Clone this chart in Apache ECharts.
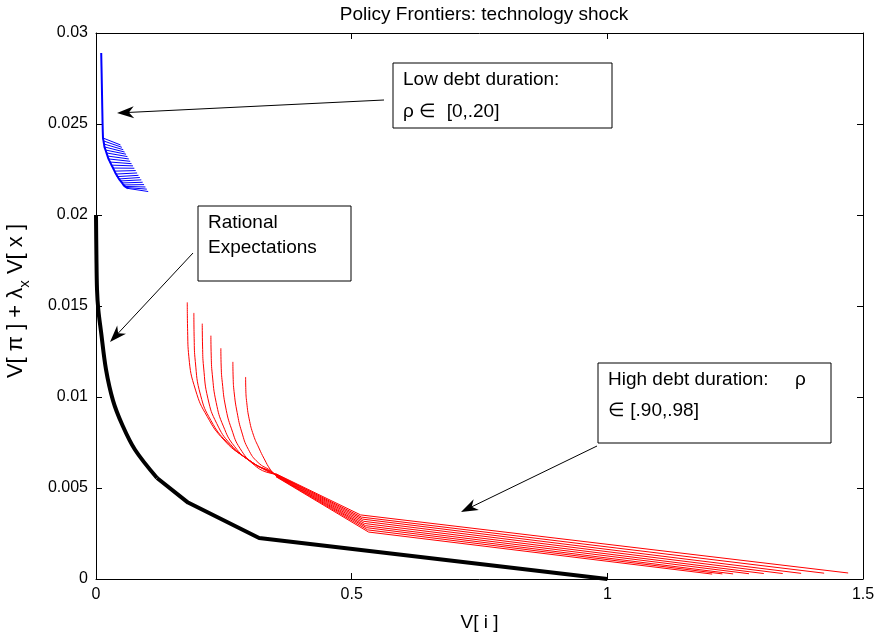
<!DOCTYPE html>
<html>
<head>
<meta charset="utf-8">
<script src="https://cdn.jsdelivr.net/npm/echarts@6/dist/echarts.min.js"></script>
<style>
  html, body { margin: 0; padding: 0; background: #fff; }
  #chart { width: 875px; height: 633px; }
</style>
</head>
<body>
<div id="chart"></div>
<script>
// 축 눈금
var xTicks = [0, 0.5, 1, 1.5];
var yTicks = [0, 0.005, 0.01, 0.015, 0.02, 0.025, 0.03];

// Rational expectations 프런티어 (검은 선) - reCurveEnd 까지는 곡선, 그 뒤는 직선
var reX = [0.000, 0.0008, 0.002, 0.0045, 0.0098, 0.0196, 0.0333, 0.0509, 0.0763, 0.1194, 0.180, 0.319, 1.000];
var reY = [0.0200, 0.0178, 0.0159, 0.0148, 0.0136, 0.0115, 0.0098, 0.0085, 0.0071, 0.00555, 0.0042, 0.00225, 0.0000];
var reCurveEnd = 9;

// High debt duration (빨간 선) - 위쪽 곡선 부분 (7개)
var redTops = [
  [[0.1785, 0.01520], [0.1792, 0.01360], [0.1816, 0.01221], [0.1947, 0.01038], [0.2176, 0.00892], [0.2501, 0.00764], [0.2892, 0.00672], [0.3415, 0.00581]],
  [[0.1914, 0.01462], [0.1920, 0.01320], [0.1942, 0.01195], [0.2045, 0.01010], [0.2250, 0.00870], [0.2560, 0.00752], [0.2930, 0.00665], [0.3415, 0.00583]],
  [[0.2078, 0.01403], [0.2084, 0.01280], [0.2104, 0.01165], [0.2190, 0.00990], [0.2360, 0.00855], [0.2630, 0.00740], [0.2980, 0.00655], [0.3415, 0.00586]],
  [[0.2247, 0.01337], [0.2253, 0.01230], [0.2274, 0.01125], [0.2350, 0.00970], [0.2490, 0.00840], [0.2710, 0.00728], [0.3030, 0.00645], [0.3415, 0.00589]],
  [[0.2442, 0.01268], [0.2448, 0.01170], [0.2470, 0.01080], [0.2535, 0.00945], [0.2650, 0.00825], [0.2820, 0.00716], [0.3090, 0.00633], [0.3415, 0.00592]],
  [[0.2677, 0.01193], [0.2682, 0.01110], [0.2700, 0.01030], [0.2760, 0.00915], [0.2850, 0.00808], [0.2980, 0.00712], [0.3170, 0.00640], [0.3415, 0.00595]],
  [[0.2926, 0.01110], [0.2930, 0.01040], [0.2948, 0.00970], [0.2995, 0.00880], [0.3080, 0.00790], [0.3186, 0.00720], [0.3290, 0.00660], [0.3415, 0.00599]]
];
// 빨간 선 다발 (9개): 수렴점, 꺾이는 점, 끝점
var redConvX = 0.352;
var redConvY = [0.00578, 0.00576, 0.00574, 0.00572, 0.00570, 0.00568, 0.00566, 0.00564, 0.00562];
var redKinkX = [0.5176, 0.5195, 0.5214, 0.5234, 0.5253, 0.5272, 0.5292, 0.5311, 0.5330];
var redKinkY = [0.00352, 0.00340, 0.00329, 0.00317, 0.00305, 0.00293, 0.00282, 0.00270, 0.00258];
var redEndX = [1.471, 1.424, 1.379, 1.343, 1.306, 1.277, 1.246, 1.225, 1.205];
var redEndY = [0.00033, 0.00032, 0.00031, 0.00030, 0.00030, 0.00029, 0.00028, 0.00028, 0.00027];

// Low debt duration (파란 선) - 공통 윗부분 + 꺾이는 점 + 끝점 (21개)
var blueTop = [[0.0102, 0.0289], [0.0110, 0.0278], [0.0118, 0.0266], [0.0126, 0.0254]];
var blueBendX = [0.0137, 0.0147, 0.0157, 0.0166, 0.0186, 0.0205, 0.0225, 0.0245, 0.0274, 0.0303, 0.0333,
                 0.0362, 0.0391, 0.0421, 0.0450, 0.0479, 0.0509, 0.0538, 0.0568, 0.0597, 0.0626];
var blueBendY = [0.02423, 0.02407, 0.02390, 0.02374, 0.02357, 0.02341, 0.02324, 0.02308, 0.02291, 0.02274, 0.02258,
                 0.02241, 0.02225, 0.02211, 0.02198, 0.02187, 0.02176, 0.02165, 0.02157, 0.02151, 0.02146];
var blueEndX = [0.0479, 0.0506, 0.0533, 0.0560, 0.0588, 0.0615, 0.0642, 0.0669, 0.0696, 0.0723, 0.0750,
                0.0777, 0.0804, 0.0831, 0.0858, 0.0886, 0.0913, 0.0940, 0.0967, 0.0994, 0.1021];
var blueEndY = [0.02385, 0.02372, 0.02359, 0.02346, 0.02334, 0.02321, 0.02308, 0.02295, 0.02282, 0.02270, 0.02257,
                0.02244, 0.02231, 0.02218, 0.02206, 0.02193, 0.02180, 0.02167, 0.02154, 0.02142, 0.02129];

var FONT = 'Liberation Sans, Arial, sans-serif';

// 시리즈 만들기
var series = [];
var addLine = function (pts, color, width, smooth, z) {
  series.push({
    type: 'line', data: pts, showSymbol: false, silent: true, smooth: smooth,
    lineStyle: { color: color, width: width }, z: z
  });
};

var reData = reX.map(function (x, i) { return [x, reY[i]]; });
addLine(reData.slice(0, reCurveEnd + 1), '#000', 4, 0.35, 3);
addLine(reData.slice(reCurveEnd), '#000', 4, false, 3);

for (var i = 0; i < redConvY.length; i++) {
  if (i < redTops.length) {
    addLine(redTops[i].concat([[redConvX, redConvY[i]]]), '#ff0000', 1, 0.5, 2);
  }
  addLine([[redConvX, redConvY[i]], [redKinkX[i], redKinkY[i]], [redEndX[i], redEndY[i]]], '#ff0000', 1, false, 2);
}

// 파란 선: 왼쪽 경계 곡선 + 각 끝 선분
var blueEdge = blueTop.concat(blueBendX.map(function (x, k) { return [x, blueBendY[k]]; }));
addLine(blueEdge, '#0000ff', 2, 0.4, 2);
for (var j = 0; j < blueBendX.length; j++) {
  addLine([[blueBendX[j], blueBendY[j]], [blueEndX[j], blueEndY[j]]], '#0000ff', 1, false, 2);
}

// 화살표 (꼬리 -> 머리)
var arrow = function (x1, y1, x2, y2) {
  var dx = x2 - x1, dy = y2 - y1;
  var len = Math.sqrt(dx * dx + dy * dy);
  var ux = dx / len, uy = dy / len;
  var px = -uy, py = ux;
  var L = 17, w = 6;
  var bx = x2 - L * ux, by = y2 - L * uy;
  return [
    { type: 'line', z: 100, shape: { x1: x1, y1: y1, x2: x2 - 8 * ux, y2: y2 - 8 * uy },
      style: { stroke: '#000', lineWidth: 1 } },
    { type: 'polygon', z: 100, shape: { points: [
        [x2, y2], [bx + w * px, by + w * py], [x2 - 0.7 * L * ux, y2 - 0.7 * L * uy], [bx - w * px, by - w * py]
      ] }, style: { fill: '#000' } }
  ];
};

var box = function (x, y, w, h, lines, lineGap) {
  var els = [{ type: 'rect', z: 100, shape: { x: x, y: y, width: w, height: h },
    style: { fill: '#fff', stroke: '#000', lineWidth: 1 } }];
  lines.forEach(function (t, n) {
    els.push({ type: 'text', z: 101, x: x + 10, y: y + 17 + n * lineGap,
      style: { text: t, fill: '#000', font: '19px ' + FONT, verticalAlign: 'middle' } });
  });
  return els;
};

var graphics = [];
graphics = graphics.concat(box(393, 63, 219, 65, ['Low debt duration:', 'ρ ∈  [0,.20]'], 32));
graphics = graphics.concat(box(198, 206, 153, 75, ['Rational', 'Expectations'], 25));
graphics = graphics.concat(box(598, 363, 233, 80, ['High debt duration:     ρ', '∈ [.90,.98]'], 31));
graphics = graphics.concat(arrow(384, 100, 117, 113));
graphics = graphics.concat(arrow(193, 253, 110, 342));
graphics = graphics.concat(arrow(597, 446, 461, 512));

var tickFmt = function (v) { return String(+v.toFixed(3)); };

var baseAxis = {
  type: 'value',
  axisLine: { show: true, onZero: false, lineStyle: { color: '#000', width: 1 } },
  axisTick: { show: true, inside: true, length: 6, lineStyle: { color: '#000' } },
  splitLine: { show: false }
};

var option = {
  backgroundColor: '#fff',
  animation: false,
  title: {
    text: 'Policy Frontiers: technology shock',
    left: 479, top: 0, textAlign: 'center',
    textStyle: { fontFamily: FONT, fontSize: 19, fontWeight: 'normal', color: '#000' }
  },
  grid: { left: 96, right: 12, top: 33, bottom: 54, containLabel: false, outerBoundsMode: 'none' },
  xAxis: [
    Object.assign({}, baseAxis, {
      position: 'bottom', min: 0, max: 1.5, interval: 0.5,
      axisLabel: { color: '#000', fontFamily: FONT, fontSize: 16, margin: 8, formatter: tickFmt },
      name: 'V[ i ]', nameLocation: 'middle', nameGap: 34,
      nameTextStyle: { color: '#000', fontFamily: FONT, fontSize: 19 }
    }),
    Object.assign({}, baseAxis, {
      position: 'top', min: 0, max: 1.5, interval: 0.5, axisLabel: { show: false }
    })
  ],
  yAxis: [
    Object.assign({}, baseAxis, {
      position: 'left', min: 0, max: 0.03, interval: 0.005,
      axisLabel: { color: '#000', fontFamily: FONT, fontSize: 16, margin: 8, formatter: tickFmt },
      name: 'V[ π ] + λ{s|x} V[ x ]', nameLocation: 'middle', nameGap: 64, nameRotate: 90,
      nameTextStyle: {
        color: '#000', fontFamily: FONT, fontSize: 22, lineHeight: 32, padding: [0, 0, 0, 10],
        rich: { s: { fontFamily: FONT, fontSize: 15, lineHeight: 15, color: '#000', verticalAlign: 'bottom' } }
      }
    }),
    Object.assign({}, baseAxis, {
      position: 'right', min: 0, max: 0.03, interval: 0.005, axisLabel: { show: false }
    })
  ],
  series: series,
  graphic: graphics
};

var myChart = echarts.init(document.getElementById('chart'));
myChart.setOption(option);
</script>
</body>
</html>
